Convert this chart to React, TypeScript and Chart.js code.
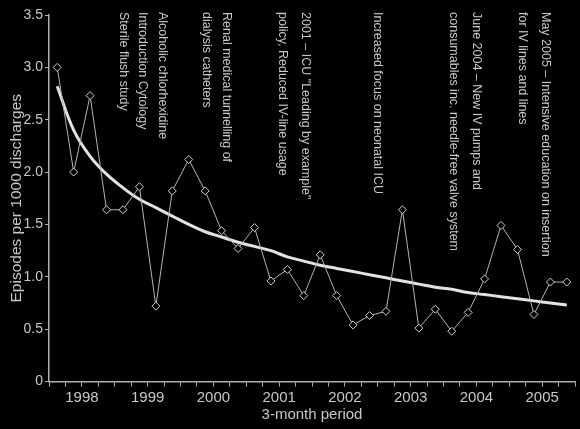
import { Chart, registerables } from "chart.js";
import type { ChartConfiguration, Plugin } from "chart.js";
import { useEffect, useRef } from "react";

const years = ["1998", "1999", "2000", "2001", "2002", "2003", "2004", "2005"];

// episodes per 1000 discharges, one value per quarter, 1998 Q1 .. 2005 Q4
const episodes = [
  3.0, 2.0, 2.73, 1.64, 1.64, 1.86, 0.72, 1.82, 2.12, 1.82, 1.44, 1.27, 1.47,
  0.96, 1.07, 0.82, 1.21, 0.82, 0.54, 0.63, 0.67, 1.64, 0.51, 0.69, 0.48, 0.66,
  0.98, 1.49, 1.26, 0.64, 0.95, 0.95,
];

// fitted trend, read per quarter
const trend = [
  2.82, 2.4, 2.15, 1.98, 1.85, 1.74, 1.66, 1.58, 1.5, 1.43, 1.38, 1.33, 1.29,
  1.25, 1.19, 1.15, 1.11, 1.08, 1.05, 1.02, 0.99, 0.96, 0.93, 0.9, 0.88, 0.85,
  0.83, 0.81, 0.79, 0.77, 0.75, 0.73,
];

// intervention notes, placed by quarter position
const noteQuarter = [4.5, 5.7, 6.9, 9.6, 10.8, 14.2, 15.6, 20.0, 24.6, 26.0, 28.8, 30.2];
const noteText = [
  "Sterile flush study",
  "Introduction Cytology",
  "Alcoholic chlorhexidine",
  "dialysis catheters",
  "Renal medical tunnelling of",
  "policy, Reduced IV-line usage",
  "2001 – ICU \"Leading by example\"",
  "Increased focus on neonatal ICU",
  "consumables inc. needle-free valve system",
  "June 2004 – New IV pumps and",
  "for IV lines and lines",
  "May 2005 – Intensive education on insertion",
];

const textColor = "#c8c8c8";
const axisColor = "#b0b0b0";
const font = "'Liberation Sans', Arial, sans-serif";

const notesPlugin: Plugin = {
  id: "notes",
  afterDraw(chart) {
    const { ctx, scales } = chart;
    const x = scales.x;
    ctx.save();
    ctx.fillStyle = textColor;
    ctx.font = `12.5px ${font}`;
    ctx.textAlign = "left";
    ctx.textBaseline = "middle";
    noteText.forEach((t, i) => {
      const px = x.getPixelForValue(noteQuarter[i]);
      ctx.save();
      ctx.translate(px, 12);
      ctx.rotate(Math.PI / 2);
      ctx.fillText(t, 0, 0);
      ctx.restore();
    });
    ctx.restore();
  },
};

const App = () => {
  const canvasRef = useRef<HTMLCanvasElement>(null);

  useEffect(() => {
    const ctx = canvasRef.current?.getContext("2d");
    if (!ctx) {
      return;
    }

    Chart.register(...registerables);

    const config: ChartConfiguration<"line"> = {
      type: "line",
      data: {
        datasets: [
          {
            label: "Episodes",
            data: episodes.map((v, i) => ({ x: i + 0.5, y: v })),
            borderColor: "#b5b5b5",
            borderWidth: 1,
            pointStyle: "rectRot",
            pointRadius: 4,
            pointBorderColor: "#d0d0d0",
            pointBackgroundColor: "#000",
            pointBorderWidth: 1,
            tension: 0,
          },
          {
            label: "Trend",
            data: trend.map((v, i) => ({ x: i + 0.5, y: v })),
            borderColor: "#e2e2e2",
            borderWidth: 3,
            pointRadius: 0,
            tension: 0.4,
          },
        ],
      },
      options: {
        animation: false,
        responsive: true,
        maintainAspectRatio: false,
        layout: { padding: { top: 15, right: 3, left: 0, bottom: 0 } },
        plugins: {
          legend: { display: false },
          tooltip: { enabled: false },
        },
        scales: {
          x: {
            type: "linear",
            min: 0,
            max: 32,
            afterFit: (scale) => {
              scale.height = 47.5;
            },
            ticks: {
              stepSize: 1,
              autoSkip: false,
              maxRotation: 0,
              padding: 2,
              color: textColor,
              font: { family: font, size: 15 },
              callback: (value) => {
                const v = Number(value);
                return v % 4 === 2 ? years[(v - 2) / 4] : "";
              },
            },
            grid: {
              drawOnChartArea: false,
              color: axisColor,
              tickLength: 5,
            },
            border: { color: axisColor, width: 1.5 },
            title: {
              display: true,
              text: "3-month period",
              color: textColor,
              padding: { top: 0, bottom: 5 },
              font: { family: font, size: 15 },
            },
          },
          y: {
            min: 0,
            max: 3.5,
            afterFit: (scale) => {
              scale.width = 49;
            },
            ticks: {
              stepSize: 0.5,
              padding: 2,
              color: textColor,
              font: { family: font, size: 14 },
              callback: (value) => {
                const v = Number(value);
                return v === 0 ? "0" : v.toFixed(1);
              },
            },
            grid: {
              drawOnChartArea: false,
              color: axisColor,
              tickLength: 4,
            },
            border: { color: axisColor, width: 1.5 },
            title: {
              display: true,
              text: "Episodes per 1000 discharges",
              color: textColor,
              padding: { top: 7, bottom: 0 },
              font: { family: font, size: 15.5 },
            },
          },
        },
      },
      plugins: [notesPlugin],
    };

    const chart = new Chart(ctx, config);

    return () => {
      chart.destroy();
    };
  }, []);

  return (
    <div
      style={{
        position: "fixed",
        left: 0,
        top: 0,
        width: 580,
        height: 429,
        background: "#000",
      }}
    >
      <canvas ref={canvasRef} />
    </div>
  );
};

export default App;
